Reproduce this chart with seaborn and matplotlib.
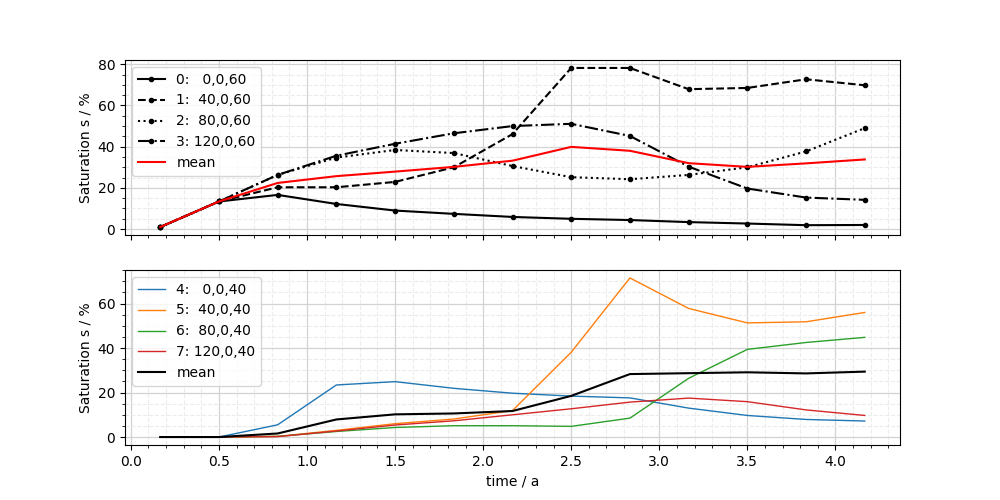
import numpy as np
import matplotlib
matplotlib.use("Agg")
import matplotlib.pyplot as plt
import seaborn as sns

time = [1/6, 3/6, 5/6, 7/6, 9/6, 11/6, 13/6, 15/6, 17/6, 19/6, 21/6, 23/6, 25/6]

top_labels = ["0:   0,0,60", "1:  40,0,60", "2:  80,0,60", "3: 120,0,60"]
s0 = [1.0, 13.4, 16.6, 12.2, 9.0, 7.4, 5.9, 5.0, 4.4, 3.4, 2.7, 1.9, 2.0]
s1 = [1.0, 13.4, 20.3, 20.3, 22.9, 30.0, 46.1, 78.2, 78.2, 67.9, 68.5, 72.7, 69.8]
s2 = [1.0, 13.4, 26.3, 34.7, 38.4, 36.9, 30.6, 25.2, 24.2, 26.3, 30.0, 37.7, 49.0]
s3 = [1.0, 13.4, 26.3, 35.6, 41.4, 46.5, 50.0, 51.1, 45.2, 30.3, 19.7, 15.3, 14.2]
top_mean = [1.0, 13.4, 22.4, 25.7, 27.9, 30.2, 33.2, 39.9, 38.0, 32.0, 30.2, 31.9, 33.8]

bot_labels = ["4:   0,0,40", "5:  40,0,40", "6:  80,0,40", "7: 120,0,40"]
s4 = [0.0, 0.0, 5.5, 23.4, 24.9, 21.9, 19.7, 18.4, 17.6, 13.0, 9.7, 7.9, 7.2]
s5 = [0.0, 0.0, 0.3, 3.0, 6.0, 8.1, 11.9, 38.1, 71.5, 57.8, 51.3, 51.8, 56.0]
s6 = [0.0, 0.0, 0.3, 2.5, 4.3, 5.1, 5.1, 4.8, 8.5, 26.4, 39.4, 42.5, 44.8]
s7 = [0.0, 0.0, 0.2, 2.7, 5.4, 7.3, 10.0, 12.7, 15.7, 17.5, 15.9, 12.2, 9.7]
bot_mean = [0.0, 0.0, 1.6, 7.9, 10.2, 10.6, 11.7, 18.5, 28.3, 28.7, 29.1, 28.6, 29.4]

fig, (ax1, ax2) = plt.subplots(2, 1, sharex=True, figsize=(10, 5), dpi=100)

styles = ["-", "--", ":", "-."]
for lab, ys, ls in zip(top_labels, [s0, s1, s2, s3], styles):
    sns.lineplot(x=time, y=ys, ax=ax1, color="k", linestyle=ls, marker=".",
                 markersize=6, markeredgecolor="k", markeredgewidth=1,
                 linewidth=1.5, label=lab)
sns.lineplot(x=time, y=top_mean, ax=ax1, color="red", linewidth=1.5, label="mean")

colors = ["#1f77b4", "#ff7f0e", "#2ca02c", "#d62728"]
for lab, ys, c in zip(bot_labels, [s4, s5, s6, s7], colors):
    sns.lineplot(x=time, y=ys, ax=ax2, color=c, linewidth=1.0, label=lab)
sns.lineplot(x=time, y=bot_mean, ax=ax2, color="k", linewidth=1.5, label="mean")

for ax in (ax1, ax2):
    ax.minorticks_on()
    ax.grid(which="major", color="#d3d3d3", linewidth=0.9)
    ax.grid(which="minor", color="#ececec", linestyle="--", linewidth=0.8)
    ax.set_axisbelow(True)
    ax.set_ylabel("Saturation s / %")
    ax.legend(loc="upper left")

ax1.set_xlabel("")
ax1.set_yticks([0, 20, 40, 60, 80])
ax2.set_yticks([0, 20, 40, 60])
ax2.set_xlabel("time / a")

fig.savefig("out.png", dpi=100)
